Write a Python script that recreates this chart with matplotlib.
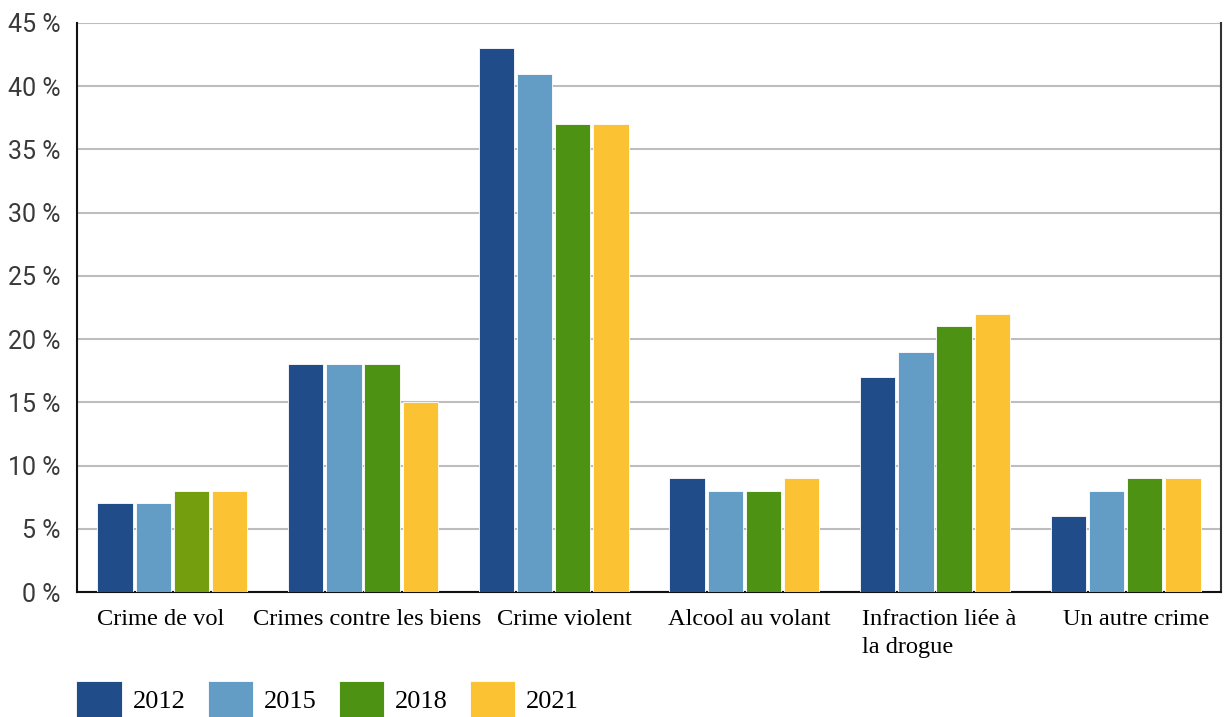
import numpy as np
import matplotlib
matplotlib.use("Agg")
import matplotlib.pyplot as plt
import matplotlib.transforms as mtransforms
from matplotlib.patches import Patch

# data
categories = ["Crime de vol", "Crimes contre les biens", "Crime violent",
              "Alcool au volant", "Infraction liée à\nla drogue", "Un autre crime"]
years = ["2012", "2015", "2018", "2021"]
v2012 = [7, 18, 43, 9, 17, 6]
v2015 = [7, 18, 41, 8, 19, 8]
v2018 = [8, 18, 37, 8, 21, 9]
v2021 = [8, 15, 37, 9, 22, 9]
yticks = [0, 5, 10, 15, 20, 25, 30, 35, 40, 45]

colors = ["#214C8A", "#639CC4", "#4E9213", "#FBC233"]
# first green bar in the original is a lighter olive
green_bars = ["#749E0E"] + ["#4E9213"] * 5

fig = plt.figure(figsize=(12.24, 7.17), dpi=100)
ax = fig.add_axes([77 / 1224, 1 - 592 / 717, (1221 - 77) / 1224, (592 - 23) / 717])

x = np.arange(len(categories))
w = 0.185
step = 0.2
series = [v2012, v2015, v2018, v2021]
for i, vals in enumerate(series):
    c = green_bars if i == 2 else colors[i]
    ax.bar(x + (i - 1.5) * step, vals, width=w, color=c,
           edgecolor="white", linewidth=0.6, zorder=3)

ax.set_xlim(-0.5, len(categories) - 0.5)
ax.set_ylim(0, 45)
ax.set_yticks(yticks)
ax.set_yticklabels([f"{t} %" for t in yticks], fontfamily="Roboto",
                   fontsize=18, color="#3a3a3a")
ax.tick_params(axis="y", length=0, pad=12)
ax.set_xticks(x)
ax.set_xticklabels(categories, fontfamily="Liberation Serif", fontsize=17.6,
                   multialignment="left", va="top", linespacing=1.45)
ax.tick_params(axis="x", length=0, pad=12)

# labels in the original sit a little off-centre (hand placed)
nudge_px = [-12, 4, 11, 5, 4, 10]
for lab, dx in zip(ax.get_xticklabels(), nudge_px):
    lab.set_transform(lab.get_transform() +
                      mtransforms.ScaledTranslation(dx / 100, 0, fig.dpi_scale_trans))

ax.grid(axis="y", color="#BDBDBD", linewidth=1.5, zorder=0)
ax.set_axisbelow(True)
ax.spines["top"].set_visible(False)
for s in ["left", "bottom"]:
    ax.spines[s].set_color("#111111")
    ax.spines[s].set_linewidth(1.5)
ax.spines["right"].set_color("#333333")
ax.spines["right"].set_linewidth(1.5)

handles = [Patch(facecolor=c, edgecolor="white", linewidth=0.6) for c in colors]
fig.legend(handles, years, loc="lower left", bbox_to_anchor=(58 / 1224, -0.028),
           ncol=4, frameon=False, prop={"family": "Liberation Serif", "size": 19},
           handlelength=1.72, handleheight=1.8, handletextpad=0.4,
           columnspacing=0.85, borderpad=0.2)

fig.savefig("out.png", dpi=100)
